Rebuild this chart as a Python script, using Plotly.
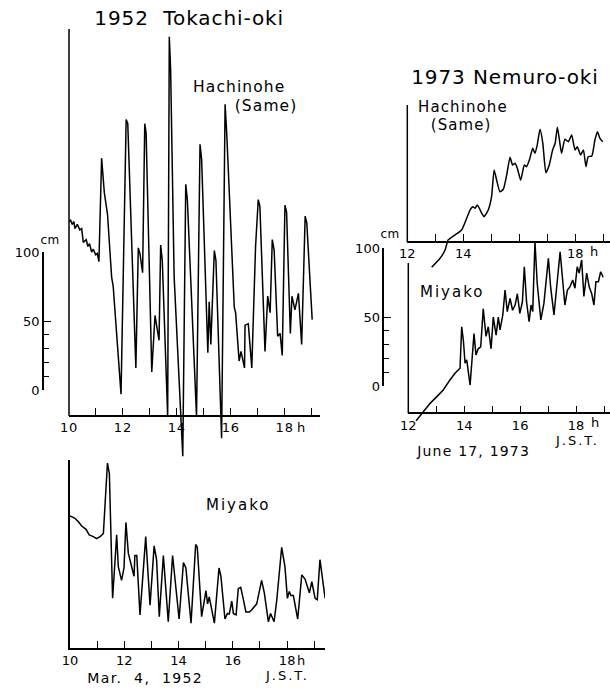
import json
import plotly.graph_objects as go

# ---------------- data (hours J.S.T., water level in cm) ----------------
hach52_t = [10.00, 10.06, 10.12, 10.18, 10.22, 10.31, 10.40, 10.47, 10.53, 10.64,
            10.70, 10.76, 10.84, 10.90, 10.99, 11.05, 11.11, 11.21, 11.31, 11.37,
            11.43, 11.58, 11.64, 11.93, 12.12, 12.18, 12.48, 12.57, 12.63, 12.73,
            12.81, 12.86, 13.07, 13.19, 13.34, 13.40, 13.46, 13.66, 13.72, 13.77,
            13.90, 14.22, 14.33, 14.39, 14.73, 14.86, 14.92, 15.15, 15.20, 15.26,
            15.39, 15.45, 15.66, 15.79, 15.85, 16.13, 16.18, 16.31, 16.38, 16.51,
            16.53, 16.65, 16.78, 16.92, 17.02, 17.08, 17.27, 17.37, 17.46, 17.54,
            17.61, 17.74, 17.83, 17.91, 18.01, 18.07, 18.21, 18.27, 18.34, 18.38,
            18.51, 18.63, 18.76, 18.82, 19.02]
hach52_cm = [122, 123, 120, 122, 117, 120, 116, 117, 107, 109,
             104, 106, 100, 102, 98, 99, 93, 168, 143, 133,
             127, 82, 75, -3, 196, 193, 16, 103, 99, 85,
             193, 186, 13, 54, 36, 105, 94, -19, 256, 232,
             82, -48, 149, 138, -19, 178, 167, 27, 64, 33,
             101, 94, -35, 207, 186, 60, 56, 21, 28, 16,
             47, 48, 16, 104, 138, 133, 28, 68, 56, 109,
             101, 39, 41, 25, 134, 129, 41, 68, 62, 58,
             70, 33, 126, 121, 51]

miya52_t = [10.00, 10.18, 10.31, 10.43, 10.59, 10.71, 10.86, 10.98, 11.11, 11.23,
            11.38, 11.45, 11.57, 11.72, 11.78, 11.90, 11.99, 12.06, 12.15, 12.27,
            12.36, 12.39, 12.46, 12.58, 12.79, 12.95, 13.10, 13.19, 13.29, 13.44,
            13.62, 13.78, 14.02, 14.18, 14.27, 14.46, 14.63, 14.69, 14.85, 15.01,
            15.07, 15.13, 15.32, 15.49, 15.56, 15.71, 15.80, 15.87, 15.96, 16.02,
            16.12, 16.20, 16.29, 16.39, 16.48, 16.61, 16.69, 16.88, 16.94, 17.06,
            17.16, 17.31, 17.39, 17.52, 17.62, 17.80, 17.92, 18.01, 18.08, 18.14,
            18.23, 18.39, 18.54, 18.66, 18.82, 18.91, 19.03, 19.11, 19.21, 19.29,
            19.40]
miya52_cm = [95.7, 94, 91.5, 88.4, 86, 81.9, 80.7, 79.2, 80.7, 83,
             134, 126.6, 36, 82, 59, 49, 58, 91, 68.6, 60,
             52, 67, 67, 24, 80.7, 31, 74, 64, 22.7, 67,
             19, 67, 21, 62, 58, 18, 75, 73, 22.7, 41.5,
             32, 37, 18, 58, 52, 21, 25, 24.6, 34, 25,
             24, 43, 44, 35, 26, 26, 27.5, 32, 37, 49,
             40, 19, 25, 19, 35, 73, 59, 36, 41, 38,
             38, 21, 53, 50, 40, 48, 36, 35, 64, 52,
             36]

hach73_t = [12.87, 13.17, 13.35, 13.46, 13.70, 13.94, 14.12, 14.24, 14.34, 14.42,
            14.50, 14.66, 14.74, 14.89, 15.01, 15.10, 15.19, 15.31, 15.43, 15.55,
            15.67, 15.76, 15.85, 15.93, 16.05, 16.18, 16.26, 16.36, 16.48, 16.56,
            16.64, 16.74, 16.84, 16.95, 17.07, 17.19, 17.28, 17.36, 17.45, 17.51,
            17.63, 17.75, 17.87, 17.99, 18.07, 18.19, 18.29, 18.38, 18.46, 18.59,
            18.70, 18.79, 18.88, 18.98]
hach73_cm = [-18.4, -11.8, -5.8, 1.5, 5.1, 8.7, 17.2, 23.2, 25.6, 24.5,
             26.9, 20.8, 18.4, 23.2, 32.9, 52.3, 45, 36.5, 38.3, 48.7,
             61.5, 55.9, 57.2, 53.5, 45, 55.9, 54.7, 59.5, 68, 64.4,
             70.4, 81.8, 71.7, 50.3, 55.9, 66.8, 71.7, 83.3, 71.7, 64.4,
             74.6, 72.8, 77.7, 66.8, 69.2, 63.2, 66.8, 54.7, 61.9, 62.5,
             74.1, 80.1, 75.3, 72.8]

miya73_t = [12.28, 12.54, 12.78, 13.02, 13.25, 13.49, 13.67, 13.85, 13.91, 13.97,
            14.03, 14.09, 14.21, 14.35, 14.42, 14.50, 14.59, 14.68, 14.78, 14.86,
            14.96, 15.04, 15.14, 15.22, 15.28, 15.38, 15.46, 15.54, 15.64, 15.73,
            15.82, 15.90, 15.99, 16.08, 16.15, 16.23, 16.32, 16.39, 16.45, 16.53,
            16.61, 16.74, 16.85, 17.01, 17.09, 17.21, 17.33, 17.43, 17.52, 17.60,
            17.69, 17.78, 17.88, 17.96, 18.04, 18.11, 18.20, 18.28, 18.38, 18.47,
            18.56, 18.64, 18.71, 18.80, 18.88, 18.97]
miya73_cm = [-25.2, -18.7, -12.6, -7.7, -2.9, 4.4, 9.2, 12.9, 43, 33,
             16.5, 19, 0.7, 38, 22.5, 27, 28.5, 56, 36, 43,
             27, 50, 37, 50, 40.7, 51.6, 69.7, 54, 63.7, 55,
             58.8, 67, 52.8, 61, 86.6, 61, 46.7, 58.8, 54, 104.8,
             74.6, 48, 60, 92.7, 72, 51.6, 77, 97.5, 77, 58.8,
             69.7, 72, 77, 71, 86.6, 82, 91.5, 65, 82, 72,
             67, 58.8, 75.7, 75.7, 83, 79]

ticks52 = [10, 11, 12, 13, 14, 15, 16, 17, 18, 19]
labels52 = ["10", "", "12", "", "14", "", "16", "", "18", ""]
ticks73 = [12, 13, 14, 15, 16, 17, 18, 19]
labels73_top = ["12", "", "14", "", "", "", "18", ""]
labels73_bot = ["12", "", "14", "", "16", "", "18", ""]
scale_vals = [0, 50, 100]
scale_text = ["0", "50", "100"]
scale_minor = [10, 20, 30, 40]

# ---------------- layout geometry (pixels) ----------------
W, H = 610, 689
FONT = "DejaVu Sans"


def fx(px):
    return px / W


def fy(py):
    return 1 - py / H


CM52 = 1.38    # px per cm (1952 panels)
CM73 = 1.377   # px per cm (1973 panels)

axis_common = dict(showgrid=False, zeroline=False, showline=True, linecolor="black",
                   linewidth=1.5, ticks="inside", ticklen=7, tickwidth=1.3,
                   tickcolor="black", tickfont=dict(family=FONT, size=13, color="black"),
                   tickmode="array", fixedrange=True, automargin=False)

line_style = dict(color="black", width=1.5)

fig = go.Figure()
fig.add_trace(go.Scatter(x=hach52_t, y=hach52_cm, mode="lines", line=line_style,
                         xaxis="x", yaxis="y", showlegend=False))
fig.add_trace(go.Scatter(x=miya52_t, y=miya52_cm, mode="lines", line=line_style,
                         xaxis="x2", yaxis="y2", showlegend=False))
fig.add_trace(go.Scatter(x=hach73_t, y=hach73_cm, mode="lines",
                         line=dict(color="black", width=1.5, shape="spline", smoothing=0.5),
                         xaxis="x3", yaxis="y3", showlegend=False))
fig.add_trace(go.Scatter(x=miya73_t, y=miya73_cm, mode="lines", line=line_style,
                         xaxis="x4", yaxis="y4", showlegend=False))
# scale-bar axes (no marks)
fig.add_trace(go.Scatter(x=[], y=[], mode="lines", xaxis="x", yaxis="y5", showlegend=False))
fig.add_trace(go.Scatter(x=[], y=[], mode="lines", xaxis="x4", yaxis="y6", showlegend=False))

scale_axis = dict(showgrid=False, zeroline=False, showline=True, linecolor="black",
                  linewidth=1.5, ticks="inside", ticklen=7, tickwidth=1.3, tickcolor="black",
                  tickmode="array", tickvals=scale_vals, ticktext=scale_text,
                  tickfont=dict(family=FONT, size=13, color="black"),
                  minor=dict(tickmode="array", tickvals=scale_minor, ticks="inside",
                             ticklen=5, tickwidth=1.2, tickcolor="black", showgrid=False),
                  range=[0, 100], anchor="free", side="left", fixedrange=True,
                  automargin=False)

hidden_y = dict(visible=False, fixedrange=True, automargin=False)

fig.update_layout(
    width=W, height=H, autosize=False,
    margin=dict(l=0, r=0, t=0, b=0, pad=0, autoexpand=False),
    paper_bgcolor="white", plot_bgcolor="rgba(0,0,0,0)",
    showlegend=False,
    font=dict(family=FONT, color="black"),
    # Panel A: 1952 Hachinohe
    xaxis=dict(axis_common, domain=[fx(69), fx(320)], range=[10, 10 + (320 - 69) / 26.96],
               anchor="free", position=fy(416), tickvals=ticks52, ticktext=labels52),
    yaxis=dict(hidden_y, domain=[fy(462), fy(25)],
               range=[(390 - 462) / CM52, (390 - 25) / CM52]),
    # Panel B: 1952 Miyako
    xaxis2=dict(axis_common, domain=[fx(70), fx(325)], range=[10, 10 + (325 - 70) / 27.14],
                anchor="y2", tickvals=ticks52, ticktext=labels52),
    yaxis2=dict(domain=[fy(648), fy(460)], range=[0, (648 - 460) / CM52], anchor="x2",
                showline=True, linecolor="black", linewidth=1.5, ticks="",
                showticklabels=False, showgrid=False, zeroline=False, fixedrange=True,
                automargin=False),
    # Panel C: 1973 Hachinohe
    xaxis3=dict(axis_common, domain=[fx(407.3), 1], range=[12, 12 + (610 - 407.3) / 28.0],
                anchor="free", position=fy(242), tickvals=ticks73, ticktext=labels73_top),
    yaxis3=dict(hidden_y, domain=[fy(272), fy(100)],
                range=[(242 - 272) / CM73, (242 - 100) / CM73]),
    # Panel D: 1973 Miyako
    xaxis4=dict(axis_common, domain=[fx(408.3), 1], range=[12, 12 + (610 - 408.3) / 27.96],
                anchor="free", position=fy(413.3), tickvals=ticks73, ticktext=labels73_bot),
    yaxis4=dict(hidden_y, domain=[fy(425), fy(238)],
                range=[(386 - 425) / CM73, (386 - 238) / CM73]),
    # scale bars
    yaxis5=dict(scale_axis, domain=[fy(390), fy(390 - 100 * CM52)], position=fx(43)),
    yaxis6=dict(scale_axis, domain=[fy(386), fy(386 - 100 * CM73)], position=fx(383.3)),
)

# vertical axis lines for panels whose records dip below the time axis
for (px, py0, py1) in [(69, 416, 29), (407.3, 242, 105), (408.3, 413.3, 263)]:
    fig.add_shape(type="line", xref="paper", yref="paper", x0=fx(px), x1=fx(px),
                  y0=fy(py0), y1=fy(py1), line=dict(color="black", width=1.5))

# text: (string, centre x px, centre y px, font size, letter spacing px)
texts = [
    ("1952  Tokachi-oki", 189, 18, 20, 0.9),
    ("Hachinohe", 239, 87, 15.5, 1.1),
    ("(Same)", 266, 106, 15.5, 1.1),
    ("Miyako", 238, 505, 15, 2.0),
    ("Mar.  4,  1952", 145, 678, 14, 1.4),
    ("J.S.T.", 287, 675, 13, 2.0),
    ("h", 301, 427, 13, 0),
    ("h", 301, 660, 13, 0),
    ("cm", 50, 240, 12, 0.5),
    ("1973 Nemuro-oki", 505, 77, 20, 0.9),
    ("Hachinohe", 463, 107, 15, 1.1),
    ("(Same)", 461, 125, 15, 1.1),
    ("Miyako", 452, 292, 15, 2.0),
    ("June 17, 1973", 473, 451, 14, 1.2),
    ("J.S.T.", 577, 440, 13, 2.0),
    ("h", 594, 252, 13, 0),
    ("h", 595, 423, 13, 0),
    ("cm", 390, 234, 12, 0.5),
]
for s, px, py, size, _sp in texts:
    fig.add_annotation(text=s, x=fx(px), y=fy(py), xref="paper", yref="paper",
                       xanchor="center", yanchor="middle", showarrow=False,
                       font=dict(family=FONT, size=size, color="black"))

spacings = json.dumps([t[4] for t in texts])
post = (
    "document.body.style.margin='0';document.body.style.padding='0';"
    "var sp=" + spacings + ";"
    "sp.forEach(function(v,i){document.querySelectorAll('g.annotation[data-index=\"'+i+'\"] text')"
    ".forEach(function(e){e.style.letterSpacing=v+'px';});});"
    "document.querySelectorAll('g.xtick text, g.ytick text').forEach(function(e){"
    "e.style.letterSpacing='0.8px';});"
)

fig.write_html("out.html", config={"responsive": False, "displayModeBar": False},
               post_script=post)
